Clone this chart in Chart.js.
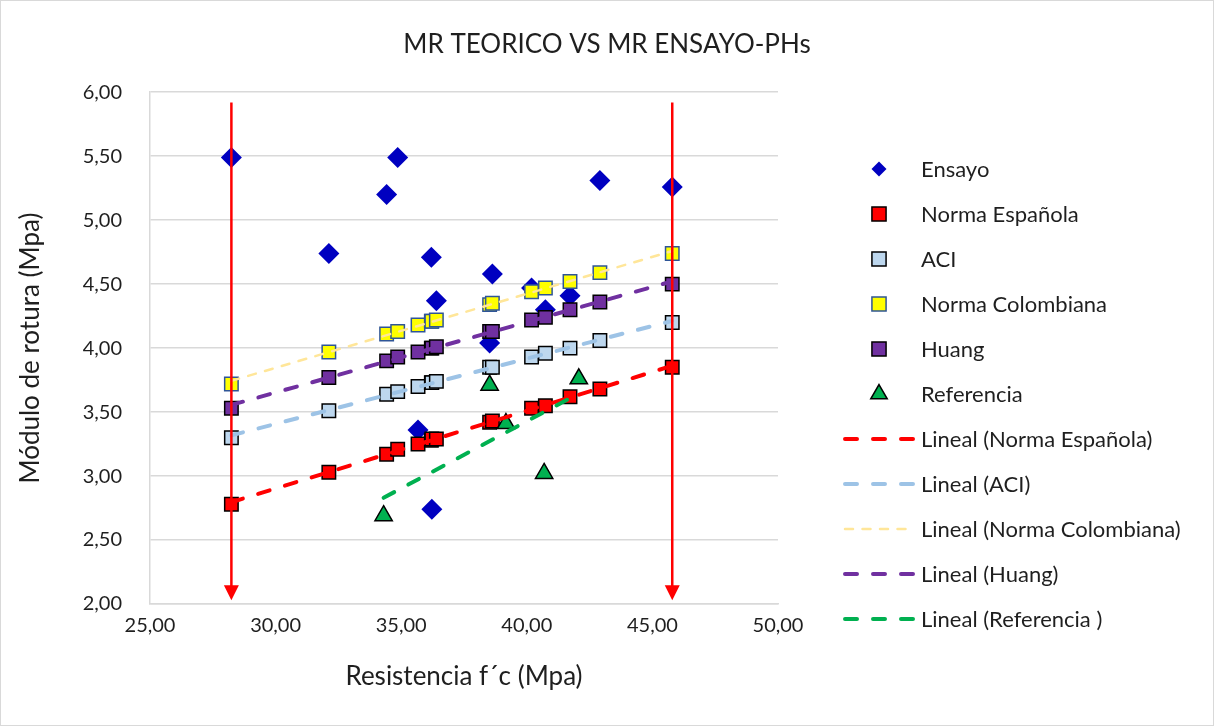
<!DOCTYPE html>
<html>
<head>
<meta charset="utf-8">
<title>MR TEORICO VS MR ENSAYO-PHs</title>
<script src="https://cdn.jsdelivr.net/npm/chart.js@4.4.0/dist/chart.umd.min.js"></script>
<style>
  html, body { margin: 0; padding: 0; background: #fff; }
  #wrap { position: relative; width: 1214px; height: 726px; box-sizing: border-box; border: 1px solid #d9d9d9; }
</style>
</head>
<body>
<div id="wrap"><canvas id="chart"></canvas></div>
<script>
// resistencia f'c de cada probeta (Mpa)
const fcValues = [28.24, 32.12, 34.42, 34.86, 35.67, 36.20, 36.22, 36.40, 38.52, 38.63, 40.19, 40.74, 41.72, 42.91, 45.79];
const mrEnsayo = [5.49, 4.74, 5.20, 5.49, 3.36, 4.71, 2.74, 4.37, 4.04, 4.58, 4.47, 4.30, 4.41, 5.31, 5.26];
const mrEspanola = [2.78, 3.03, 3.17, 3.21, 3.25, 3.28, 3.29, 3.29, 3.42, 3.43, 3.53, 3.55, 3.62, 3.68, 3.85];
const mrAci = [3.30, 3.51, 3.64, 3.66, 3.70, 3.73, 3.73, 3.74, 3.85, 3.85, 3.93, 3.96, 4.00, 4.06, 4.20];
const mrColombiana = [3.72, 3.97, 4.11, 4.13, 4.18, 4.21, 4.21, 4.22, 4.34, 4.35, 4.44, 4.47, 4.52, 4.59, 4.74];
const mrHuang = [3.53, 3.77, 3.90, 3.93, 3.97, 4.00, 4.00, 4.01, 4.13, 4.13, 4.22, 4.24, 4.30, 4.36, 4.50];

const fcReferencia = [34.30, 38.52, 39.17, 40.69, 42.07];
const mrReferencia = [2.69, 3.71, 3.41, 3.02, 3.76];

// flechas rojas (limites de f'c)
const arrowX = [28.24, 45.79];
const arrowTop = 5.92;
const arrowTip = 2.03;

const xTicks = [25, 30, 35, 40, 45, 50];
const yTicks = [2, 2.5, 3, 3.5, 4, 4.5, 5, 5.5, 6];

const FONT = 'Lato, "Open Sans", sans-serif';
const TEXT = '#1f1f1f';

function pts(xs, ys) {
  return xs.map((x, i) => ({ x: x, y: ys[i] }));
}

function linearFit(xs, ys) {
  const n = xs.length;
  const mx = xs.reduce((a, b) => a + b, 0) / n;
  const my = ys.reduce((a, b) => a + b, 0) / n;
  let sxy = 0, sxx = 0;
  xs.forEach((x, i) => { sxy += (x - mx) * (ys[i] - my); sxx += (x - mx) * (x - mx); });
  const m = sxy / sxx, b = my - m * mx;
  const x0 = Math.min(...xs), x1 = Math.max(...xs);
  return [{ x: x0, y: m * x0 + b }, { x: x1, y: m * x1 + b }];
}

const fmt = v => v.toFixed(2).replace('.', ',');

function series(label, xs, ys, style, fill, border, radius, bw) {
  return {
    label: label, data: pts(xs, ys), showLine: false,
    pointStyle: style, pointRadius: radius, pointHoverRadius: radius,
    backgroundColor: fill, borderColor: border, pointBorderWidth: bw
  };
}

function trend(label, xs, ys, color, width, dash) {
  return {
    label: label, data: linearFit(xs, ys), showLine: true, pointRadius: 0,
    borderColor: color, borderWidth: width, borderDash: dash, borderCapStyle: 'round',
    backgroundColor: color, trend: true
  };
}

const datasets = [
  series('Ensayo', fcValues, mrEnsayo, 'rectRot', '#0000c0', '#0000c0', 10.5, 0),
  series('Norma Española', fcValues, mrEspanola, 'rect', '#ff0000', '#000000', 9.5, 1.5),
  series('ACI', fcValues, mrAci, 'rect', '#bdd7ee', '#000000', 9.5, 1.5),
  series('Norma Colombiana', fcValues, mrColombiana, 'rect', '#ffff00', '#2f5597', 9.5, 1.5),
  series('Huang', fcValues, mrHuang, 'rect', '#7030a0', '#000000', 9.5, 1.5),
  series('Referencia', fcReferencia, mrReferencia, 'triangle', '#00b050', '#000000', 10, 1.5),
  trend('Lineal (Norma Española)', fcValues, mrEspanola, '#ff0000', 4, [12, 16]),
  trend('Lineal (ACI)', fcValues, mrAci, '#9dc3e6', 4, [12, 16]),
  trend('Lineal (Norma Colombiana)', fcValues, mrColombiana, '#ffe699', 2.5, [8, 9.5]),
  trend('Lineal (Huang)', fcValues, mrHuang, '#7030a0', 4, [12, 16]),
  trend('Lineal (Referencia )', fcReferencia, mrReferencia, '#00b050', 4, [12, 16])
];
datasets.forEach((d, i) => { d.order = 100 - i; });

const arrowPlugin = {
  id: 'arrows',
  afterDatasetsDraw(chart) {
    const { ctx, scales: { x, y } } = chart;
    ctx.save();
    ctx.strokeStyle = '#ff0000';
    ctx.fillStyle = '#ff0000';
    ctx.lineWidth = 2.5;
    arrowX.forEach(v => {
      const px = x.getPixelForValue(v);
      const top = y.getPixelForValue(arrowTop);
      const tip = y.getPixelForValue(arrowTip);
      ctx.beginPath();
      ctx.moveTo(px, top);
      ctx.lineTo(px, tip - 12);
      ctx.stroke();
      ctx.beginPath();
      ctx.moveTo(px - 7.5, tip - 15);
      ctx.lineTo(px + 7.5, tip - 15);
      ctx.lineTo(px, tip);
      ctx.closePath();
      ctx.fill();
    });
    ctx.restore();
  }
};

const legendPlugin = {
  id: 'sideLegend',
  afterDraw(chart) {
    const ctx = chart.ctx;
    const markX = 878, textX = 920, rowY = 168, step = 45;
    ctx.save();
    chart.data.datasets.forEach((d, i) => {
      const cy = rowY + i * step;
      if (d.trend) {
        ctx.save();
        ctx.strokeStyle = d.borderColor;
        ctx.lineWidth = d.borderWidth;
        ctx.lineCap = 'round';
        ctx.setLineDash(d.borderDash);
        ctx.beginPath();
        ctx.moveTo(844, cy);
        ctx.lineTo(914, cy);
        ctx.stroke();
        ctx.restore();
      } else {
        ctx.fillStyle = d.backgroundColor;
        ctx.strokeStyle = d.borderColor;
        ctx.lineWidth = d.pointBorderWidth;
        const r = d.pointStyle === 'rectRot' ? 7.5 : (d.pointStyle === 'rect' ? 10 : 9.5);
        Chart.helpers.drawPoint(ctx, { pointStyle: d.pointStyle, radius: r, rotation: 0, borderWidth: d.pointBorderWidth }, markX, cy);
      }
      ctx.fillStyle = TEXT;
      ctx.font = '22px ' + FONT;
      ctx.textBaseline = 'middle';
      ctx.textAlign = 'left';
      ctx.fillText(d.label, textX, cy + 1);
    });
    ctx.restore();
  }
};

new Chart(document.getElementById('chart'), {
  type: 'scatter',
  data: { datasets: datasets },
  plugins: [arrowPlugin, legendPlugin],
  options: {
    responsive: true,
    maintainAspectRatio: false,
    animation: false,
    events: [],
    layout: { padding: 0 },
    plugins: {
      legend: { display: false },
      tooltip: { enabled: false },
      title: {
        display: true,
        text: 'MR TEORICO VS MR ENSAYO-PHs',
        color: TEXT,
        font: { family: FONT, size: 26, weight: 'normal', lineHeight: 1.2 },
        padding: { top: 28, bottom: 32 }
      }
    },
    scales: {
      x: {
        type: 'linear', min: 25, max: 50,
        afterBuildTicks: s => { s.ticks = xTicks.map(v => ({ value: v })); },
        afterFit: s => { s.height = 121; },
        grid: { display: false, drawTicks: false },
        border: { display: true, color: '#d9d9d9', width: 1.5 },
        ticks: { callback: fmt, color: TEXT, padding: 10, font: { family: FONT, size: 20 } },
        title: {
          display: true, text: 'Resistencia f´c (Mpa)', color: TEXT,
          font: { family: FONT, size: 26, lineHeight: 1.2 }, padding: { top: 0, bottom: 33 }
        }
      },
      y: {
        type: 'linear', min: 2, max: 6,
        afterBuildTicks: s => { s.ticks = yTicks.map(v => ({ value: v })); },
        afterFit: s => { s.width = 149; },
        grid: { color: '#d9d9d9', lineWidth: 1.5, drawTicks: false },
        border: { display: true, color: '#d9d9d9', width: 1.5 },
        ticks: { callback: fmt, color: TEXT, padding: 28, font: { family: FONT, size: 20 } },
        title: {
          display: true, text: 'Módulo de rotura (Mpa)', color: TEXT,
          font: { family: FONT, size: 26, lineHeight: 1.2 }, padding: { top: 14, bottom: 0 }
        }
      },
      // eje vacio que reserva el espacio de la leyenda a la derecha
      side: {
        type: 'linear', position: 'right', min: 0, max: 1,
        afterFit: s => { s.width = 435; },
        grid: { display: false, drawTicks: false },
        border: { display: false },
        ticks: { display: false }
      }
    }
  }
});
</script>
</body>
</html>
